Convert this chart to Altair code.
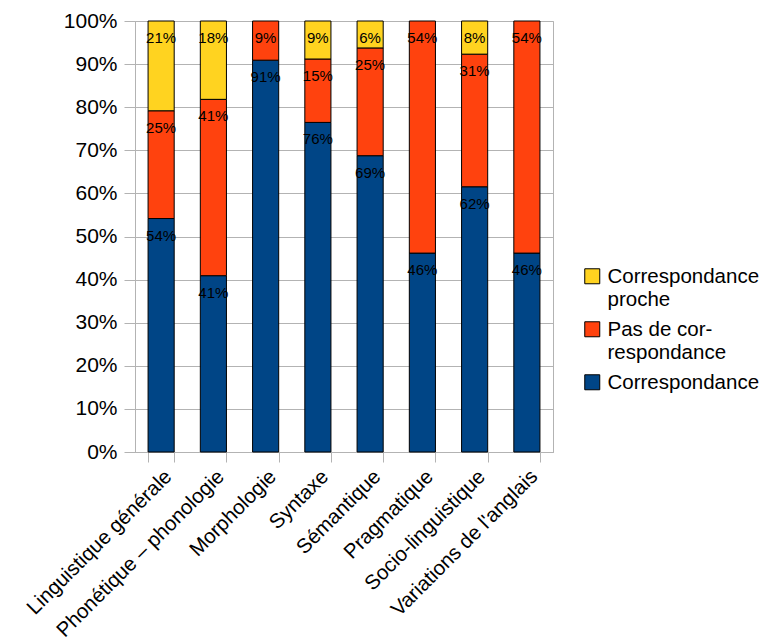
import altair as alt
import pandas as pd

# Categories (x axis) and the three stacked series, in percent
categories = [
    "Linguistique générale",
    "Phonétique – phonologie",
    "Morphologie",
    "Syntaxe",
    "Sémantique",
    "Pragmatique",
    "Socio-linguistique",
    "Variations de l'anglais",
]
series = ["Correspondance", "Pas de correspondance", "Correspondance proche"]
series_colors = ["#004586", "#ff420e", "#ffd320"]

correspondance = [54.17, 40.91, 90.91, 76.47, 68.75, 46.15, 61.54, 46.15]
pas_de_correspondance = [25.0, 40.91, 9.09, 14.71, 25.0, 53.85, 30.77, 53.85]
correspondance_proche = [20.83, 18.18, 0.0, 8.82, 6.25, 0.0, 7.69, 0.0]

y_ticks = list(range(0, 101, 10))

rows = []
for i, cat in enumerate(categories):
    for rank, (name, values) in enumerate(
        zip(series, [correspondance, pas_de_correspondance, correspondance_proche])
    ):
        if values[i] > 0:
            rows.append({"categorie": cat, "serie": name, "rang": rank, "valeur": values[i]})
df = pd.DataFrame(rows)

legend_order = series[::-1]
legend_colors = series_colors[::-1]

base = alt.Chart(df).transform_stack(
    stack="valeur",
    groupby=["categorie"],
    as_=["bas", "haut"],
    sort=[alt.SortField("rang", order="ascending")],
).transform_calculate(
    etiquette="round(datum.valeur) + '%'"
)

x_enc = alt.X(
    "categorie:N",
    sort=categories,
    scale=alt.Scale(paddingInner=0.5, paddingOuter=0.25),
    axis=alt.Axis(
        title=None,
        labelAngle=-45,
        labelAlign="right",
        labelBaseline="top",
        labelFontSize=20.5,
        labelPadding=4,
        tickBand="extent",
        tickSize=10,
        grid=False,
        labelLimit=400,
    ),
)

bars = base.mark_bar(stroke="#000000", strokeWidth=1).encode(
    x=x_enc,
    y=alt.Y(
        "bas:Q",
        scale=alt.Scale(domain=[0, 100], nice=False),
        axis=alt.Axis(
            title=None,
            values=y_ticks,
            labelExpr="datum.value + '%'",
            labelFontSize=21,
            labelPadding=7,
            tickSize=11,
            grid=True,
        ),
    ),
    y2="haut:Q",
    color=alt.Color(
        "serie:N",
        scale=alt.Scale(domain=legend_order, range=legend_colors),
        legend=alt.Legend(
            title=None,
            orient="none",
            legendX=447,
            legendY=252,
            symbolType="M-1,-1.93L1,-1.93L1,0.07L-1,0.07Z",
            symbolSize=225,
            symbolStrokeColor="#000000",
            symbolStrokeWidth=1,
            symbolOpacity=1,
            labelFontSize=20.5,
            labelBaseline="alphabetic",
            labelLimit=400,
            labelOffset=5,
            rowPadding=8,
            labelExpr=(
                "datum.label == 'Correspondance proche' ? ['Correspondance', 'proche'] : "
                "datum.label == 'Pas de correspondance' ? ['Pas de cor-', 'respondance'] : "
                "datum.label"
            ),
        ),
    ),
)

labels = base.mark_text(baseline="middle", dy=17, fontSize=15, color="#000000").encode(
    x=alt.X("categorie:N", sort=categories),
    y=alt.Y("haut:Q"),
    text="etiquette:N",
)

chart = (
    alt.layer(bars, labels)
    .properties(
        width=418,
        height=431,
        autosize=alt.AutoSizeParams(type="none"),
        padding={"left": 135, "top": 21, "right": 206, "bottom": 185},
    )
    .configure(font="Liberation Sans")
    .configure_view(stroke="#b3b3b3", strokeWidth=1)
    .configure_axis(
        domainColor="#b3b3b3",
        tickColor="#b3b3b3",
        gridColor="#b3b3b3",
        labelColor="#000000",
        labelFont="Liberation Sans",
    )
    .configure_legend(labelColor="#000000", labelFont="Liberation Sans")
)

chart.save("out.html", embed_options={"renderer": "svg", "actions": False})
